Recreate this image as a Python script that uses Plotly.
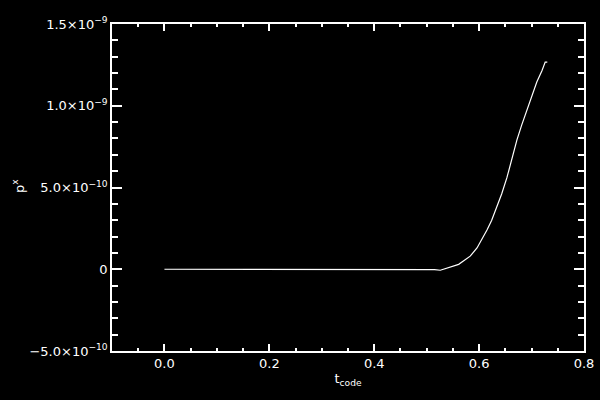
import plotly.graph_objects as go

t_code = [0.0, 0.10, 0.20, 0.30, 0.40, 0.49, 0.500, 0.505, 0.515, 0.526, 0.535, 0.548, 0.561, 0.570,
          0.583, 0.596, 0.605, 0.615, 0.624, 0.634, 0.643, 0.653, 0.662, 0.672,
          0.681, 0.691, 0.700, 0.710, 0.720, 0.726, 0.730]
p_x = [0.0, 0.0, 0.0, 0.0, 0.0, 0.0, -0.004e-9, 0.0, -0.002e-9, -0.006e-9, 0.004e-9, 0.014e-9, 0.03e-9, 0.05e-9,
       0.08e-9, 0.13e-9, 0.18e-9, 0.24e-9, 0.30e-9, 0.38e-9, 0.46e-9, 0.56e-9, 0.67e-9, 0.79e-9,
       0.88e-9, 0.97e-9, 1.06e-9, 1.145e-9, 1.216e-9, 1.267e-9, 1.267e-9]

x_tickvals = [0.0, 0.2, 0.4, 0.6, 0.8]
x_ticktext = ["0.0", "0.2", "0.4", "0.6", "0.8"]
y_tickvals = [-5e-10, 0, 5e-10, 1e-9, 1.5e-9]
y_ticktext = ["−5.0×10<sup>−10</sup>", "0", "5.0×10<sup>−10</sup>", "1.0×10<sup>−9</sup>", "1.5×10<sup>−9</sup>"]

font = dict(family="DejaVu Sans", size=13, color="white")

fig = go.Figure()
fig.add_trace(go.Scatter(x=t_code, y=p_x, mode="lines",
                         line=dict(color="white", width=1.2), showlegend=False))

axis_common = dict(showgrid=False, zeroline=False, showline=True, linecolor="white", linewidth=1.5,
                   mirror="allticks", ticks="inside", tickcolor="white", tickwidth=1.5,
                   tickfont=font, automargin=False)

fig.update_xaxes(range=[-0.1, 0.8], tickvals=x_tickvals, ticktext=x_ticktext, ticklen=7,
                 minor=dict(ticks="inside", dtick=0.05, tick0=0, ticklen=3, tickcolor="white", tickwidth=1.5),
                 title=dict(text="t<sub>code</sub>", font=font, standoff=4), **axis_common)
fig.update_yaxes(range=[-5e-10, 1.5e-9], tickvals=y_tickvals, ticktext=y_ticktext, ticklen=10,
                 minor=dict(ticks="inside", dtick=1e-10, tick0=0, ticklen=6, tickcolor="white", tickwidth=1.5),
                 **axis_common)

fig.add_annotation(text="p<sup>x</sup>", xref="paper", yref="paper", x=-0.199, y=0.505,
                   textangle=-90, showarrow=False, font=font, xanchor="center", yanchor="middle")

fig.update_layout(width=600, height=400, paper_bgcolor="black", plot_bgcolor="black",
                  margin=dict(l=112, r=16, t=24, b=49), font=font)

fig.write_html("out.html", config={"displayModeBar": False},
               post_script="document.body.style.margin='0';document.body.style.background='black';")
